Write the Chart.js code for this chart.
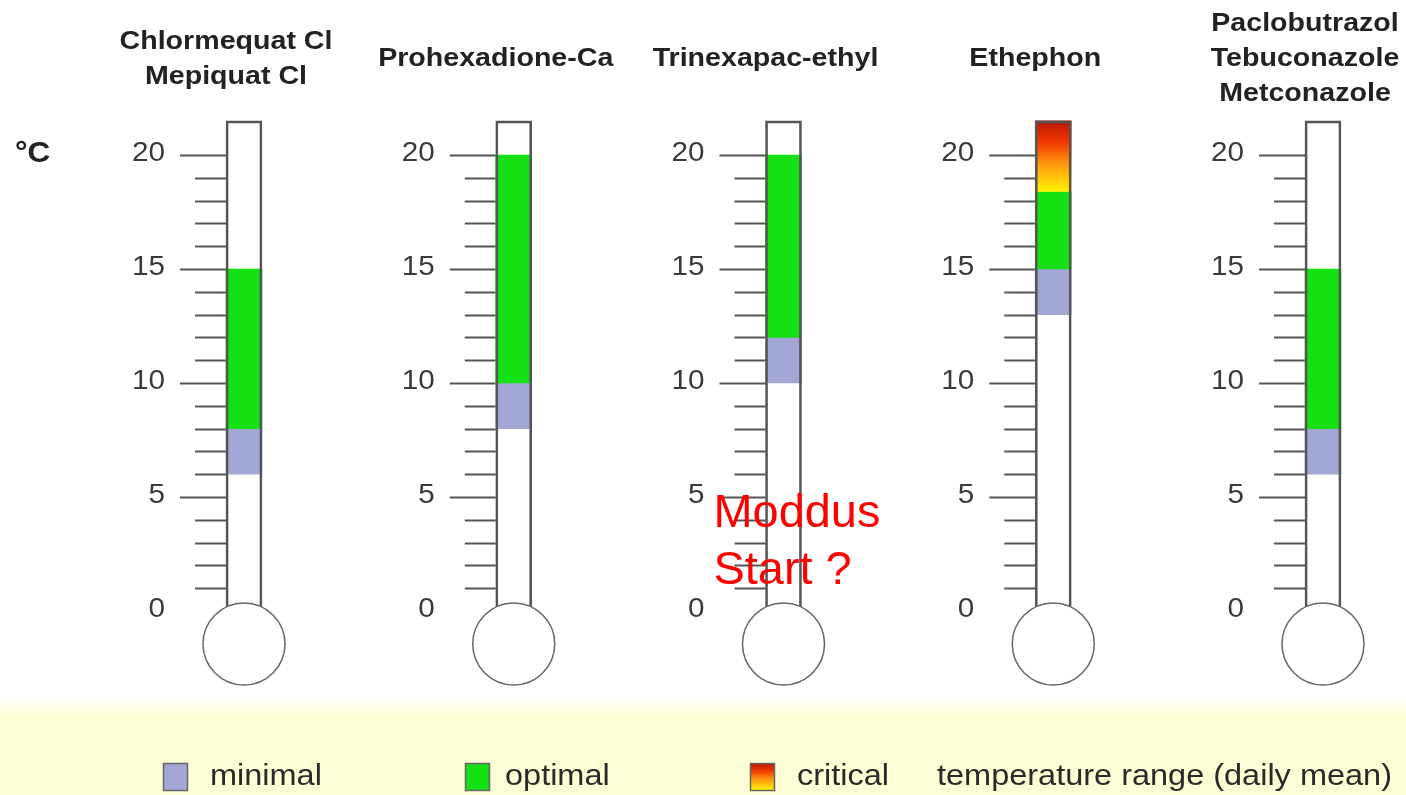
<!DOCTYPE html>
<html><head><meta charset="utf-8">
<script src="https://cdn.jsdelivr.net/npm/chart.js@4.4.1/dist/chart.umd.min.js"></script>
<style>html,body{margin:0;padding:0;background:#fff;}#wrap{position:relative;width:1406px;height:795px;}</style>
</head><body><div id="wrap"><canvas id="c"></canvas></div>
<script>
// ---- data ----
const categories = ['Chlormequat Cl', 'Prohexadione-Ca', 'Trinexapac-ethyl', 'Ethephon', 'Paclobutrazol'];
const titleLines = [
  ['Chlormequat Cl', 'Mepiquat Cl'],
  ['Prohexadione-Ca'],
  ['Trinexapac-ethyl'],
  ['Ethephon'],
  ['Paclobutrazol', 'Tebuconazole', 'Metconazole']
];
const minimalRange  = [[6, 8], [8, 10], [10, 12], [13, 15], [6, 8]];
const optimalRange  = [[8, 15], [10, 20], [12, 20], [15, 18.4], [8, 15]];
const criticalRange = [null, null, null, [18.4, 21.5], null];
const tubeRange     = [[0, 21.5], [0, 21.5], [0, 21.5], [0, 21.5], [0, 21.5]];
const bulbLevel     = [-1.45, -1.45, -1.45, -1.45, -1.45];
const tickValues    = [1, 2, 3, 4, 5, 6, 7, 8, 9, 10, 11, 12, 13, 14, 15, 16, 17, 18, 19, 20];
const tickLabels    = [0, 5, 10, 15, 20];
const unitLabel     = '°C';
const legendLabels  = ['minimal', 'optimal', 'critical'];
const legendNote    = 'temperature range (daily mean)';
const noteLines     = ['Moddus', 'Start ?'];
const noteCategory  = 2;
const noteValue     = 3.7;

const FONT = '"Liberation Sans", Arial, sans-serif';
const minimalColor = '#A2A7D6';
const optimalColor = '#14E014';
const tubeColor = '#555555';

function stretchText(ctx, text, x, y, align, sx) {
  ctx.save();
  ctx.translate(x, y);
  ctx.scale(sx, 1);
  ctx.textAlign = align;
  ctx.fillText(text, 0, 0);
  ctx.restore();
}
function criticalGradient(ctx, yTop, yBottom) {
  const g = ctx.createLinearGradient(0, yTop, 0, yBottom);
  g.addColorStop(0, '#B81400');
  g.addColorStop(0.3, '#F23800');
  g.addColorStop(0.62, '#FF9A10');
  g.addColorStop(1, '#FFF200');
  return g;
}

const thermoPlugin = {
  id: 'thermo',
  beforeDraw(chart) {
    const ctx = chart.ctx;
    ctx.save();
    const g = ctx.createLinearGradient(0, 696, 0, 718);
    g.addColorStop(0, 'rgba(254,254,214,0)');
    g.addColorStop(1, '#FEFED6');
    ctx.fillStyle = g;
    ctx.fillRect(0, 696, chart.width, chart.height - 696);
    ctx.restore();
  },
  beforeDatasetsDraw(chart) {
    const ctx = chart.ctx, xs = chart.scales.x, ys = chart.scales.y;
    ctx.save();
    ctx.strokeStyle = tubeColor;
    ctx.lineWidth = 2;
    categories.forEach((c, i) => {
      const left = xs.getPixelForValue(i) - 18;
      tickValues.forEach(v => {
        const y = Math.round(ys.getPixelForValue(v)) + 0.5;
        const len = v % 5 === 0 ? 46 : 31;
        ctx.beginPath(); ctx.moveTo(left - len, y); ctx.lineTo(left, y); ctx.stroke();
      });
      ctx.fillStyle = '#3a3a3a';
      ctx.font = '27px ' + FONT;
      ctx.textBaseline = 'middle';
      tickLabels.forEach(v => {
        stretchText(ctx, String(v), left - 61, ys.getPixelForValue(v) - 1, 'right', 1.1);
      });
      // titles
      ctx.fillStyle = '#222';
      ctx.font = 'bold 26px ' + FONT;
      const lines = titleLines[i];
      const lh = 35;
      const y0 = 59 - (lines.length - 1) * lh / 2;
      lines.forEach((t, k) => stretchText(ctx, t, left, y0 + k * lh, 'center', 1.1));
    });
    ctx.restore();
  },
  afterDatasetsDraw(chart) {
    const ctx = chart.ctx, xs = chart.scales.x, ys = chart.scales.y;
    ctx.save();
    // unit
    ctx.fillStyle = '#222';
    ctx.font = 'bold 30px ' + FONT;
    ctx.textBaseline = 'middle';
    stretchText(ctx, unitLabel, 15, ys.getPixelForValue(20) - 1, 'left', 1.05);
    // note
    ctx.fillStyle = '#FF0000';
    ctx.font = '46px ' + FONT;
    ctx.textBaseline = 'alphabetic';
    const nx = xs.getPixelForValue(noteCategory) - 70;
    const ny = ys.getPixelForValue(noteValue);
    noteLines.forEach((t, k) => stretchText(ctx, t, nx, ny + k * 57, 'left', 1.02));
    // legend
    const boxX = [163, 465, 750], textX = [210, 505, 797];
    ctx.font = '29px ' + FONT;
    ctx.textBaseline = 'middle';
    legendLabels.forEach((t, k) => {
      let fill = k === 0 ? minimalColor : k === 1 ? optimalColor : criticalGradient(ctx, 763, 790);
      ctx.fillStyle = fill;
      ctx.fillRect(boxX[k], 763, 24, 27);
      ctx.strokeStyle = '#666'; ctx.lineWidth = 1.5;
      ctx.strokeRect(boxX[k] + 0.5, 763.5, 24, 27);
      ctx.fillStyle = '#2a2a2a';
      stretchText(ctx, t, textX[k], 777, 'left', 1.12);
    });
    ctx.fillStyle = '#2a2a2a';
    stretchText(ctx, legendNote, 937, 777, 'left', 1.12);
    ctx.restore();
  }
};

new Chart(document.getElementById('c'), {
  type: 'bar',
  data: {
    labels: categories,
    datasets: [
      { type: 'bubble', label: 'bulb', order: 0, clip: false,
        data: bulbLevel.map((v, i) => ({ x: i, y: v, r: 41 })),
        backgroundColor: '#ffffff', borderColor: '#666', borderWidth: 1.5 },
      { label: 'tube', order: 1, clip: false, data: tubeRange, grouped: false, barThickness: 36,
        backgroundColor: 'rgba(0,0,0,0)', borderColor: tubeColor, borderWidth: 2, borderSkipped: 'bottom' },
      { label: 'critical', order: 2, clip: false, data: criticalRange, grouped: false, barThickness: 36,
        backgroundColor: (c) => {
          const chart = c.chart;
          if (!chart.chartArea || !Array.isArray(c.raw)) return '#FF9A10';
          const ys = chart.scales.y;
          return criticalGradient(chart.ctx, ys.getPixelForValue(c.raw[1]), ys.getPixelForValue(c.raw[0]));
        }, borderWidth: 0 },
      { label: 'optimal', order: 2, clip: false, data: optimalRange, grouped: false, barThickness: 36,
        backgroundColor: optimalColor, borderWidth: 0 },
      { label: 'minimal', order: 2, clip: false, data: minimalRange, grouped: false, barThickness: 36,
        backgroundColor: minimalColor, borderWidth: 0 }
    ]
  },
  options: {
    responsive: true,
    maintainAspectRatio: false,
    animation: false,
    events: [],
    layout: { padding: { left: 244, right: 83, top: 109.4, bottom: 92.8 } },
    scales: {
      x: { type: 'category', display: false, offset: false },
      y: { type: 'linear', display: false, min: -4, max: 22 }
    },
    plugins: { legend: { display: false }, tooltip: { enabled: false } }
  },
  plugins: [thermoPlugin]
});
</script></body></html>
